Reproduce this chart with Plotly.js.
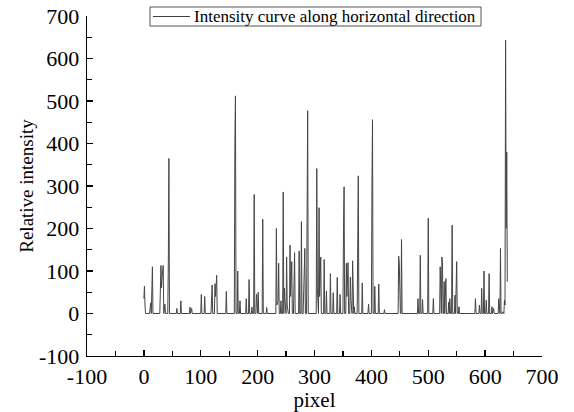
<!DOCTYPE html>
<html>
<head>
<meta charset="utf-8">
<script src="https://cdn.plot.ly/plotly-3.0.1.min.js"></script>
<style>html,body{margin:0;padding:0;background:#fff;}#chart{width:574px;height:412px;}</style>
</head>
<body>
<div id="chart"></div>
<script>
const pixelX = [0,1,2,3,10,12,13,14,15,16,28,30,31,32,34,35,37,38,42,43,44,45,57,58,59,64,65,66,80,81,82,84,85,100,101,102,106,107,108,118,119,120,121,124,125,126,128,129,144,145,146,159,160,161,162,164,165,166,168,169,170,179,180,181,184,185,186,189,190,191,193,194,195,197,198,199,200,201,202,208,209,210,215,216,217,232,233,234,236,237,238,240,241,242,244,245,246,247,248,250,251,252,254,256,257,258,260,261,263,265,266,269,272,273,274,276,277,278,280,283,284,286,287,288,289,303,304,305,307,308,309,311,312,316,317,318,320,321,322,327,328,329,332,333,334,339,340,341,344,345,346,350,351,352,353,355,356,357,359,360,362,363,364,366,367,368,369,370,371,375,376,377,378,383,384,385,394,395,396,400,401,402,403,405,406,407,412,413,414,422,423,424,447,448,449,451,452,453,454,481,482,483,485,486,487,489,490,491,499,500,501,508,509,510,520,521,522,523,524,525,526,527,528,529,531,532,535,536,537,538,539,541,542,543,546,547,548,550,551,553,554,555,582,583,584,589,590,591,593,594,595,597,598,599,601,602,603,606,607,608,611,612,613,615,616,623,624,625,626,627,628,630,631,633,634,635,636,637,638,639];
const intensity = [35,64,18,0,0,25,0,40,110,0,0,113,60,85,113,0,22,0,0,120,365,0,0,12,0,0,30,0,0,15,0,12,0,0,45,0,0,40,0,0,55,67,0,0,70,40,90,0,0,52,0,0,400,512,0,0,100,0,0,30,0,0,35,0,0,80,0,0,15,0,0,280,0,0,45,0,0,50,0,0,222,0,0,14,0,0,200,20,30,118,0,0,30,0,0,286,0,60,30,0,133,20,0,0,161,40,122,0,0,143,0,0,0,147,0,0,216,0,0,153,0,0,360,477,0,0,341,60,0,249,40,133,0,0,127,0,0,53,0,0,94,0,0,49,0,0,85,0,0,45,0,0,200,298,0,0,118,40,120,0,0,86,30,0,124,0,0,16,0,0,240,324,0,0,72,0,0,22,0,0,300,456,0,0,64,0,0,69,0,0,9,0,0,135,120,0,0,174,0,0,35,0,0,137,0,0,33,0,0,224,0,0,35,0,0,110,0,0,133,120,0,0,75,0,82,0,0,27,0,35,0,0,208,0,0,43,0,122,0,0,16,0,0,35,0,0,20,0,0,59,0,0,100,0,0,31,0,0,94,0,0,16,0,12,0,0,35,0,0,153,0,0,4,0,31,20,643,200,380,75];
const xTicks = [-100,0,100,200,300,400,500,600,700];
const yTicks = [-100,0,100,200,300,400,500,600,700];
const seriesName = 'Intensity curve along horizontal direction';

const FAM = 'Liberation Serif';
function f(size) { return {family: FAM, size: size, color: '#000'}; }
function axis(ticks, titleText, titleSize, standoff, labelGap) {
  return {
    range: [-100, 700],
    showgrid: false, zeroline: false, showline: true, linecolor: '#000', linewidth: 1.3,
    ticks: 'inside', ticklen: 6, tickwidth: 1.3, tickcolor: '#000',
    tickmode: 'array', tickvals: ticks, ticktext: ticks.map(String),
    tickfont: f(22), ticklabelstandoff: labelGap,
    minor: {ticks: 'inside', ticklen: 5, tickwidth: 1.3, tickcolor: '#000', tickmode: 'linear', dtick: 50},
    title: {text: titleText, font: f(titleSize), standoff: standoff},
    fixedrange: true
  };
}
// plot area in pixels: x 87..542, y 16..356
const L = 87, R = 542, T = 16, B = 356;
const px = v => (v - L) / (R - L);
const py = v => (B - v) / (B - T);
const layout = {
  width: 574, height: 412,
  font: f(16),
  margin: {l: L, r: 574 - R, t: T, b: 412 - B},
  paper_bgcolor: '#fff', plot_bgcolor: '#fff',
  showlegend: false,
  xaxis: axis(xTicks, 'pixel', 21, 0, 0),
  yaxis: axis(yTicks, 'Relative intensity', 19, 0, 2),
  shapes: [
    {type: 'rect', xref: 'paper', yref: 'paper', x0: px(150), x1: px(481), y0: py(26), y1: py(7),
     line: {color: '#555', width: 1}, fillcolor: '#fff'},
    {type: 'line', xref: 'paper', yref: 'paper', x0: px(153), x1: px(190), y0: py(16.5), y1: py(16.5),
     line: {color: '#404040', width: 1}}
  ],
  annotations: [
    {xref: 'paper', yref: 'paper', x: px(192), y: py(16.5), xanchor: 'left', yanchor: 'middle',
     text: seriesName, showarrow: false, font: f(17)}
  ]
};
Plotly.newPlot('chart', [{
  x: pixelX, y: intensity, type: 'scatter', mode: 'lines', name: seriesName,
  line: {color: '#454545', width: 1}
}], layout, {staticPlot: true, displayModeBar: false});
</script>
</body>
</html>
